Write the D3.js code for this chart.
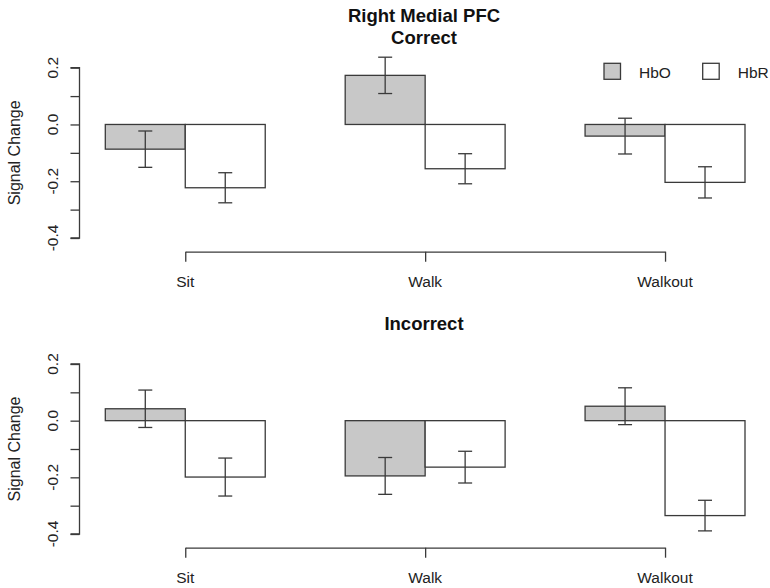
<!DOCTYPE html>
<html>
<head>
<meta charset="utf-8">
<script src="https://cdnjs.cloudflare.com/ajax/libs/d3/7.8.5/d3.min.js"></script>
<style>
  body { margin: 0; background: #fff; }
  svg { display: block; font-family: "Liberation Sans", Arial, sans-serif; }
</style>
</head>
<body>
<div id="container"></div>
<script>
'use strict';

var conditions = ['Sit', 'Walk', 'Walkout'];
var series = ['HbO', 'HbR'];
var yTicks = [-0.4, -0.3, -0.2, -0.1, 0.0, 0.1, 0.2];
var yLabels = [-0.4, -0.2, 0.0, 0.2];

// mean signal change per condition, [HbO, HbR]
var correctMeans = [[-0.087, -0.223], [0.173, -0.156], [-0.041, -0.204]];
var correctErr = [[0.064, 0.053], [0.064, 0.053], [0.063, 0.055]];
var incorrectMeans = [[0.042, -0.199], [-0.195, -0.164], [0.051, -0.335]];
var incorrectErr = [[0.066, 0.067], [0.065, 0.056], [0.065, 0.054]];

var fills = {HbO: '#c8c8c8', HbR: '#ffffff'};
var ink = '#3a3a3a';

var W = 770, H = 588;

var svg = d3.select('#container')
    .append('svg')
        .attr('width', W)
        .attr('height', H)

// bar units like R barplot(beside=TRUE): space 1 before each group
var x = d3.scaleLinear().domain([1, 9]).range([105.3, 745])

var panel = function(opts) {
    var y = d3.scaleLinear().domain([-0.4, 0.2]).range([opts.bottom, opts.top])
    var g = svg.append('g')

    var rows = [];
    conditions.forEach(function(c, i) {
        series.forEach(function(s, j) {
            rows.push({cond: c, s: s, v: opts.means[i][j], e: opts.err[i][j], pos: 1 + i * 3 + j})
        })
    })

    g.selectAll('rect.bar').data(rows).enter()
        .append('rect')
            .attr('class', 'bar')
            .attr('x', function(d) { return x(d.pos) })
            .attr('width', function(d) { return x(d.pos + 1) - x(d.pos) })
            .attr('y', function(d) { return y(Math.max(0, d.v)) })
            .attr('height', function(d) { return Math.abs(y(d.v) - y(0)) })
            .attr('fill', function(d) { return fills[d.s] })
            .attr('stroke', ink)
            .attr('stroke-width', 1.3)

    var eb = g.selectAll('g.err').data(rows).enter()
        .append('g')
            .attr('class', 'err')
            .attr('stroke', ink)
            .attr('stroke-width', 1.3)
    var cx = function(d) { return x(d.pos + 0.5) }
    eb.append('line')
        .attr('x1', cx).attr('x2', cx)
        .attr('y1', function(d) { return y(d.v + d.e) })
        .attr('y2', function(d) { return y(d.v - d.e) })
    eb.append('line')
        .attr('x1', function(d) { return cx(d) - 7 }).attr('x2', function(d) { return cx(d) + 7 })
        .attr('y1', function(d) { return y(d.v + d.e) }).attr('y2', function(d) { return y(d.v + d.e) })
    eb.append('line')
        .attr('x1', function(d) { return cx(d) - 7 }).attr('x2', function(d) { return cx(d) + 7 })
        .attr('y1', function(d) { return y(d.v - d.e) }).attr('y2', function(d) { return y(d.v - d.e) })

    // y axis
    var ya = g.append('g')
        .attr('transform', 'translate(79.5,0)')
        .call(d3.axisLeft(y).tickValues(yTicks).tickSize(9).tickFormat(''))
    ya.select('.domain').attr('d', 'M-9,' + y(0.2) + 'H0V' + y(-0.4) + 'H-9')
    ya.selectAll('path, line').attr('stroke', ink).attr('stroke-width', 1.3)

    g.selectAll('text.ylab').data(yLabels).enter()
        .append('text')
            .attr('class', 'ylab')
            .attr('transform', function(d) { return 'translate(57.5,' + y(d) + ') rotate(-90)' })
            .attr('text-anchor', 'middle')
            .attr('font-size', 15.5)
            .attr('fill', '#222')
            .text(function(d) { return d.toFixed(1) })

    g.append('text')
        .attr('transform', 'translate(20,' + y(-0.1) + ') rotate(-90)')
        .attr('text-anchor', 'middle')
        .attr('font-size', 16)
        .attr('fill', '#222')
        .text('Signal Change')

    // x axis from first to last group centre
    var gx = d3.scalePoint().domain(conditions).range([x(2), x(8)])
    var xa = g.append('g')
        .attr('transform', 'translate(0,' + opts.axisY + ')')
        .call(d3.axisBottom(gx).tickSize(10).tickSizeOuter(0).tickPadding(0).tickFormat(''))
    xa.selectAll('path, line').attr('stroke', ink).attr('stroke-width', 1.3)

    g.selectAll('text.xlab').data(conditions).enter()
        .append('text')
            .attr('class', 'xlab')
            .attr('x', function(d) { return gx(d) })
            .attr('y', opts.axisY + 35)
            .attr('text-anchor', 'middle')
            .attr('font-size', 15.5)
            .attr('fill', '#222')
            .text(function(d) { return d })

    opts.title.forEach(function(t, i) {
        g.append('text')
            .attr('x', 424)
            .attr('y', opts.titleY + i * 22.5)
            .attr('text-anchor', 'middle')
            .attr('font-size', 18.5)
            .attr('font-weight', 'bold')
            .attr('fill', '#111')
            .text(t)
    })

    return g;
}

var topPanel = panel({top: 67.7, bottom: 238, axisY: 251.7, means: correctMeans, err: correctErr,
    title: ['Right Medial PFC', 'Correct'], titleY: 21.5})
panel({top: 364, bottom: 534, axisY: 547.7, means: incorrectMeans, err: incorrectErr,
    title: ['Incorrect'], titleY: 330})

// legend, top panel only
var leg = topPanel.selectAll('g.leg').data(series).enter()
    .append('g')
        .attr('class', 'leg')
        .attr('transform', function(d, i) { return 'translate(' + (604 + i * 98.7) + ',63.3)' })
leg.append('rect')
    .attr('width', 16.5).attr('height', 16)
    .attr('fill', function(d) { return fills[d] })
    .attr('stroke', ink)
    .attr('stroke-width', 1.3)
leg.append('text')
    .attr('x', 35)
    .attr('y', 14.5)
    .attr('font-size', 15.5)
    .attr('fill', '#222')
    .text(function(d) { return d })
</script>
</body>
</html>
